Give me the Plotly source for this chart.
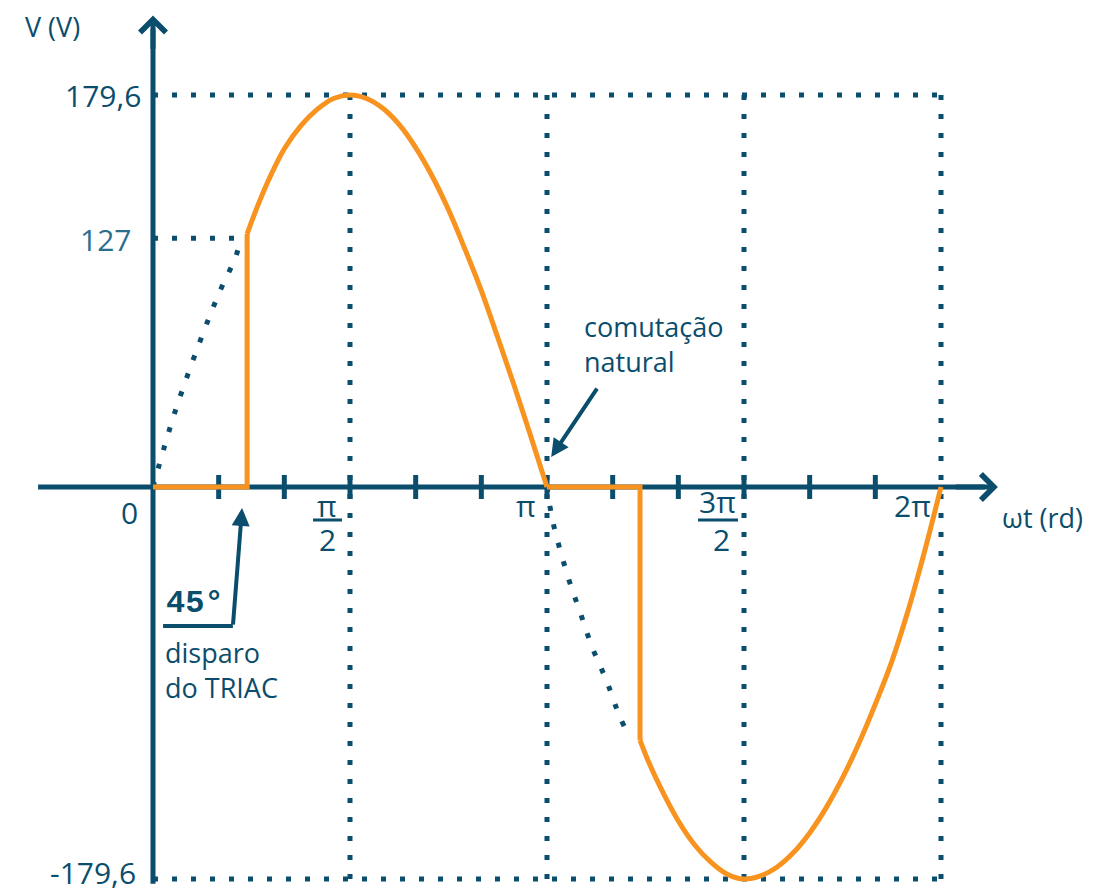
import plotly.graph_objects as go

# ---------------- data ----------------
# angles in degrees (wt), voltages in V
fire_angle_deg = [43, 222.5]            # TRIAC firing points (drawn at ~45 deg and 180+45)
peak_v = 179.6
level_127_v = 114                       # height where the "127" guide is drawn

# conducting part of the positive half-cycle
pos_deg = [43, 47.5, 52.5, 60, 67.5, 75, 82.5, 90, 97.5, 105, 112.5, 120,
           127.5, 135, 142.5, 150, 157.5, 165, 172.5, 180]
pos_v = [116, 128, 140, 155, 165.5, 173, 178, 179.6, 178, 173.5, 166, 155.5,
         142.5, 127, 109, 90, 68.5, 46.5, 23.5, 0]

# conducting part of the negative half-cycle
neg_deg = [222.5, 226, 232.5, 240, 247.5, 255, 262.5, 270, 277.5, 285, 292.5,
           300, 307.5, 315, 322.5, 330, 337.5, 345, 352.5, 360]
neg_v = [-116, -125, -139, -153, -164, -172, -177.5, -179.6, -178.2, -174.2, -167.6,
         -158.5, -147, -133.3, -117.4, -99.5, -80, -56.5, -29.5, 0]

# blocked (dotted) part of the sine before firing
blk1_deg = [0, 9.6, 21.0, 30.6, 37.9, 40.0]
blk1_v = [0, 33.0, 65.5, 89.8, 105.8, 114]
blk2_deg = [180, 182.7, 189.6, 195.1, 200.6, 207.4, 213.3, 218]
blk2_v = [0, -16, -41.2, -57.3, -73.3, -89.3, -105.4, -115]

# axis ticks and labels
tick_deg = [30, 60, 90, 120, 150, 180, 210, 240, 270, 300, 330]
guide_deg = [90, 180, 270, 360]
ytick_vals = [179.6, 114, -179.6]
ytick_text = ["179,6", "127", "-179,6"]

# ---------------- styling / layout ----------------
W, H = 1095, 896
OFF = 8                      # page body margin
SX0, SY0 = 153, 487          # origin position on screen
PX0, PY0 = SX0 - OFF, SY0 - OFF
SX = 394 / 180
SY = 392 / 179.6
NAVY = "#0b4d6c"
LIGHT = "#2c6e8e"
ORANGE = "#f7931e"
FONT = "Open Sans"
DOT = "5px,14px"

fig = go.Figure()

def dotted(x, y, shape="linear"):
    fig.add_trace(go.Scatter(x=x, y=y, mode="lines", hoverinfo="skip",
                             line=dict(color=NAVY, width=5, dash=DOT, shape=shape)))

# guide dotted lines
dotted([0, 360], [peak_v, peak_v])
dotted([0, 360], [-peak_v, -peak_v])
dotted([0, fire_angle_deg[0]], [level_127_v, level_127_v])
for g in guide_deg:
    dotted([g, g], [peak_v, -peak_v])
dotted(blk1_deg, blk1_v, "spline")
dotted(blk2_deg, blk2_v, "spline")

# orange waveform
def orange(x, y, shape="linear"):
    fig.add_trace(go.Scatter(x=x, y=y, mode="lines", hoverinfo="skip",
                             line=dict(color=ORANGE, width=5, shape=shape)))

orange([0, fire_angle_deg[0], fire_angle_deg[0]], [0, 0, pos_v[0]])
orange(pos_deg, pos_v, "spline")
orange([180, fire_angle_deg[1], fire_angle_deg[1]], [0, 0, neg_v[0]])
orange(neg_deg, neg_v, "spline")

shapes = []
# axes lines (below traces)
shapes.append(dict(type="line", layer="below", x0=-52.5, x1=380, y0=0, y1=0,
                   line=dict(color=NAVY, width=5)))
shapes.append(dict(type="line", layer="below", x0=0, x1=0, y0=-181.8, y1=210,
                   line=dict(color=NAVY, width=5)))
# tick marks
for t in tick_deg:
    shapes.append(dict(type="line", layer="below", x0=t, x1=t, y0=-5.5, y1=5.5,
                       line=dict(color=NAVY, width=5)))
# fraction bars
for anchor, a, b in [(90, -37, -8), (270, -46, -6)]:
    shapes.append(dict(type="line", xref="x", yref="y", xsizemode="pixel", ysizemode="pixel",
                       xanchor=anchor, yanchor=0, x0=a, x1=b, y0=-33, y1=-33,
                       line=dict(color=NAVY, width=3)))
# "45 deg" callout bracket
shapes.append(dict(type="line", x0=4.6, x1=36.5, y0=-63.7, y1=-63.7,
                   line=dict(color=NAVY, width=4)))

ann = []
# axis arrowheads
ann.append(dict(x=386, y=0, ax=366, ay=0, xref="x", yref="y", axref="x", ayref="y",
                text="", showarrow=True, arrowhead=4, arrowsize=1, arrowwidth=5,
                arrowcolor=NAVY, standoff=0))
ann.append(dict(x=0, y=216, ax=0, ay=200, xref="x", yref="y", axref="x", ayref="y",
                text="", showarrow=True, arrowhead=4, arrowsize=1, arrowwidth=5,
                arrowcolor=NAVY, standoff=0))
# callout arrows
ann.append(dict(x=181.9, y=13.7, ax=203.3, ay=45.8, xref="x", yref="y", axref="x", ayref="y",
                text="", showarrow=True, arrowhead=2, arrowsize=0.9, arrowwidth=4,
                arrowcolor=NAVY, standoff=0))
ann.append(dict(x=40.7, y=-9.6, ax=36.5, ay=-63.7, xref="x", yref="y", axref="x", ayref="y",
                text="", showarrow=True, arrowhead=2, arrowsize=0.9, arrowwidth=4,
                arrowcolor=NAVY, standoff=0))

def label(text, x, y, size=28, color=NAVY, xanchor="center", xshift=0, yshift=0,
          family=FONT, align="center"):
    ann.append(dict(text=text, x=x, y=y, xref="x", yref="y", showarrow=False,
                    xanchor=xanchor, yanchor="middle", xshift=xshift, yshift=yshift,
                    align=align, font=dict(family=family, size=size, color=color)))

# y tick labels
label(ytick_text[0], 0, ytick_vals[0], size=30, xanchor="right", xshift=-10, yshift=0)
label(ytick_text[1], 0, ytick_vals[1], size=30, color=LIGHT, xanchor="right", xshift=-20, yshift=-1)
label(ytick_text[2], 0, ytick_vals[2], size=30, xanchor="right", xshift=-15, yshift=7)

# x tick labels
label("0", 0, 0, size=30, xshift=-24, yshift=-25)
label("π", 90, 0, size=30, xshift=-23, yshift=-18)
label("2", 90, 0, size=30, xshift=-23, yshift=-52)
label("π", 180, 0, size=30, xshift=-21, yshift=-18)
label("3π", 270, 0, size=30, xshift=-27, yshift=-14)
label("2", 270, 0, size=30, xshift=-23, yshift=-52)
label("2π", 360, 0, size=30, xshift=-29, yshift=-18)

# axis titles
label("ωt (rd)", 0, 0, size=27, xanchor="left", xshift=1000 - SX0, yshift=-30)
label("V (V)", 0, 0, size=27, xshift=52 - SX0, yshift=SY0 - 26)

# callout texts
label("comutação<br>natural", 196.0, 65.5, size=27, xanchor="left", align="left")
label("<b>45°</b>", 5.2, -53.6, size=32, xanchor="left", family="Liberation Mono")
label("disparo<br>do TRIAC", 4.6, -83.8, size=27, xanchor="left", align="left")

fig.update_layout(
    width=W, height=H,
    margin=dict(l=0, r=0, t=0, b=0),
    paper_bgcolor="white", plot_bgcolor="white",
    showlegend=False,
    xaxis=dict(visible=False, range=[-PX0 / SX, (W - PX0) / SX], fixedrange=True),
    yaxis=dict(visible=False, range=[-(H - PY0) / SY, PY0 / SY], fixedrange=True),
    shapes=shapes,
    annotations=ann,
)

fig.write_html("out.html")
